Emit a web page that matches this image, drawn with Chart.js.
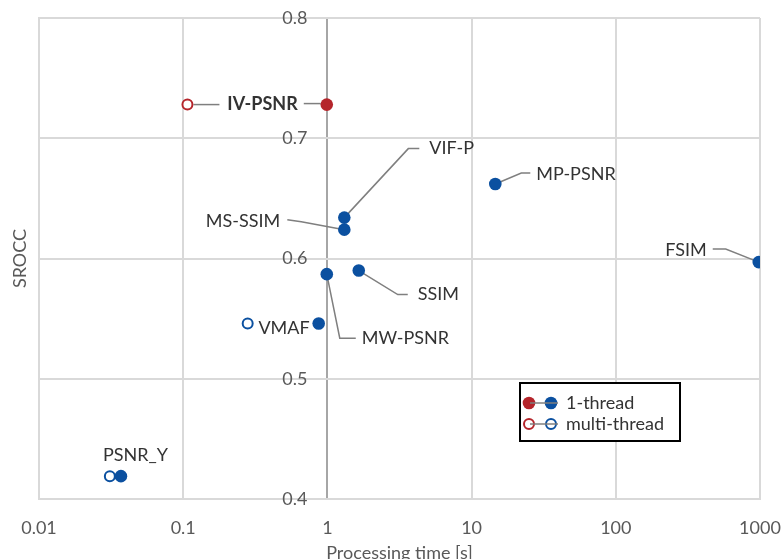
<!DOCTYPE html>
<html>
<head>
<meta charset="utf-8">
<script src="https://cdn.jsdelivr.net/npm/chart.js@4/dist/chart.umd.min.js"></script>
<style>
  html, body { margin: 0; padding: 0; background: #fff; }
  #wrap { position: relative; width: 783px; height: 559px; }
</style>
</head>
<body>
<div id="wrap"><canvas id="chart"></canvas></div>
<script>
/* SROCC vs processing time — IV-PSNR compared with other metrics (log time axis) */

// ---------- data ----------
const METRICS = ["PSNR_Y", "VMAF", "MW-PSNR", "SSIM", "MS-SSIM", "VIF-P", "MP-PSNR", "FSIM"];
const TIME_1T = [0.037, 0.87, 0.99, 1.65, 1.31, 1.31, 14.6, 980];
const SROCC = [0.419, 0.546, 0.587, 0.590, 0.624, 0.634, 0.662, 0.597];

// only two of the other metrics have a multi-thread timing
const MT_METRICS = ["PSNR_Y", "VMAF"];
const TIME_MT = [0.031, 0.28];
const SROCC_MT = [0.419, 0.546];

const IV_TIME_1T = [0.99];
const IV_TIME_MT = [0.107];
const IV_SROCC = [0.728];

const X_TICKS = [0.01, 0.1, 1, 10, 100, 1000];
const Y_MIN = 0.4, Y_MAX = 0.8, Y_STEP = 0.1;

const LEGEND_LABELS = ["1-thread", "multi-thread"];

// ---------- style ----------
const RED = "#b5252b";
const BLUE = "#0b50a0";
const GRID = "#d9d9d9";
const TEXT = "#333333";
const TICK = "#595959";
const FONT = "Lato, 'Open Sans', sans-serif";
// y tick labels sit just left of the x=1 line (the crossing axis)
const Y_LABEL_AT = 0.727;

const pts = (xs, ys) => xs.map((x, i) => ({ x: x, y: ys[i] }));

// label placement: pixel offsets from the point, plus leader polyline (also offsets)
// ds = dataset index, i = point index in that dataset
const LABELS = [
  { ds: 2, i: 0, text: "PSNR_Y", dx: -18, dy: -21, align: "left" },
  { ds: 2, i: 1, text: "VMAF", dx: -9, dy: 5, align: "right" },
  { ds: 2, i: 2, text: "MW-PSNR", dx: 35, dy: 64, align: "left", path: [[0, 0], [13, 64], [29, 64]] },
  { ds: 2, i: 3, text: "SSIM", dx: 59, dy: 24, align: "left", path: [[0, 0], [39, 24], [49, 24]] },
  { ds: 2, i: 4, text: "MS-SSIM", dx: -64, dy: -8, align: "right", path: [[0, 0], [-43, -8], [-57, -10]] },
  { ds: 2, i: 5, text: "VIF-P", dx: 85, dy: -69, align: "left", path: [[0, 0], [64, -69], [75, -69]] },
  { ds: 2, i: 6, text: "MP-PSNR", dx: 41, dy: -10, align: "left", path: [[0, 0], [26, -11], [35, -11]] },
  { ds: 2, i: 7, text: "FSIM", dx: -52, dy: -12, align: "right", path: [[0, 0], [-33, -13], [-46, -13]] },
  { ds: 0, i: 0, text: "IV-PSNR", dx: -29, dy: 0, align: "right", bold: true, path: [[-6, -1], [-23, -1]] },
  { ds: 1, i: 0, text: "", path: [[6, 0], [32, 0]] },
];

// ---------- plugin: leader lines, point labels and the boxed legend ----------
const annotate = {
  id: "annotate",
  beforeDatasetsDraw(chart) {
    const ctx = chart.ctx;
    ctx.save();
    ctx.strokeStyle = "#7f7f7f";
    ctx.lineWidth = 1.5;
    for (const l of LABELS) {
      if (!l.path) continue;
      const el = chart.getDatasetMeta(l.ds).data[l.i];
      ctx.beginPath();
      l.path.forEach(([dx, dy], k) => {
        if (k === 0) ctx.moveTo(el.x + dx, el.y + dy);
        else ctx.lineTo(el.x + dx, el.y + dy);
      });
      ctx.stroke();
    }
    ctx.restore();
  },
  afterDatasetsDraw(chart) {
    const ctx = chart.ctx;
    ctx.save();
    ctx.fillStyle = TEXT;
    ctx.textBaseline = "middle";
    for (const l of LABELS) {
      if (!l.text) continue;
      const el = chart.getDatasetMeta(l.ds).data[l.i];
      ctx.font = (l.bold ? "bold " : "") + "18px " + FONT;
      ctx.textAlign = l.align;
      ctx.fillText(l.text, el.x + l.dx, el.y + l.dy);
    }

    // legend box
    const bx = 520, by = 383, bw = 160, bh = 58;
    ctx.fillStyle = "#fff";
    ctx.fillRect(bx, by, bw, bh);
    ctx.strokeStyle = "#000";
    ctx.lineWidth = 2;
    ctx.strokeRect(bx, by, bw, bh);
    const rows = [by + 20, by + 41];
    rows.forEach((ry, r) => {
      const filled = r === 0;
      [[bx + 9, RED], [bx + 31, BLUE]].forEach(([cx, col]) => {
        ctx.beginPath();
        ctx.arc(cx, ry, filled ? 6.3 : 5, 0, Math.PI * 2);
        if (filled) { ctx.fillStyle = col; ctx.fill(); }
        else { ctx.fillStyle = "#fff"; ctx.fill(); ctx.strokeStyle = col; ctx.lineWidth = 2; ctx.stroke(); }
      });
      ctx.strokeStyle = "#7f7f7f";
      ctx.lineWidth = 1.5;
      ctx.beginPath();
      ctx.moveTo(bx + 10, ry);
      ctx.lineTo(bx + 38, ry);
      ctx.stroke();
      ctx.fillStyle = TEXT;
      ctx.font = "18px " + FONT;
      ctx.textAlign = "left";
      ctx.fillText(LEGEND_LABELS[r], bx + 46, ry);
    });
    ctx.restore();
  },
};

const filledStyle = (c) => ({ backgroundColor: c, borderColor: c, pointRadius: 6.3, borderWidth: 0 });
const openStyle = (c) => ({ backgroundColor: "#fff", borderColor: c, pointRadius: 5, borderWidth: 2 });

// the page keeps a fixed plot box, so drop the label-overflow padding scales ask for
function noPad(s) {
  s.paddingTop = s.paddingBottom = s.paddingLeft = s.paddingRight = 0;
}

new Chart(document.getElementById("chart"), {
  type: "scatter",
  data: {
    datasets: [
      { label: "IV-PSNR 1-thread", data: pts(IV_TIME_1T, IV_SROCC), ...filledStyle(RED), yAxisID: "y" },
      { label: "IV-PSNR multi-thread", data: pts(IV_TIME_MT, IV_SROCC), ...openStyle(RED), yAxisID: "y" },
      { label: "1-thread", data: pts(TIME_1T, SROCC), ...filledStyle(BLUE), yAxisID: "y" },
      { label: "multi-thread", data: pts(TIME_MT, SROCC_MT), ...openStyle(BLUE), yAxisID: "y" },
    ],
  },
  options: {
    responsive: true,
    maintainAspectRatio: false,
    animation: false,
    events: [],
    layout: { padding: { top: 18, right: 23, left: 0, bottom: 0 } },
    plugins: { legend: { display: false }, tooltip: { enabled: false } },
    scales: {
      x: {
        type: "logarithmic",
        min: 0.01,
        max: 1000,
        afterBuildTicks: (s) => { s.ticks = X_TICKS.map((v) => ({ value: v })); },
        afterFit: (s) => { s.height = 60; noPad(s); },
        grid: {
          color: (c) => (c.tick && c.tick.value === 1 ? "#a6a6a6" : GRID),
          lineWidth: 2,
          drawTicks: false,
        },
        border: { color: GRID, width: 2 },
        ticks: {
          autoSkip: false,
          maxRotation: 0,
          padding: 18,
          color: TICK,
          font: { family: FONT, size: 18 },
          callback: (v) => String(v),
        },
        title: {
          display: true,
          text: "Processing time [s]",
          color: TICK,
          font: { family: FONT, size: 18, lineHeight: 0.6 },
          padding: { top: 0, bottom: 0 },
        },
      },
      y: {
        min: Y_MIN,
        max: Y_MAX,
        afterFit: (s) => { s.width = 39; noPad(s); },
        grid: { color: GRID, lineWidth: 2, drawTicks: false },
        border: { color: GRID, width: 2 },
        ticks: { display: false, stepSize: Y_STEP },
        title: {
          display: true,
          text: "SROCC",
          color: TICK,
          font: { family: FONT, size: 18 },
          padding: { top: 9, bottom: 0 },
        },
      },
      y2: {
        axis: "y",
        position: { x: Y_LABEL_AT },
        min: Y_MIN,
        max: Y_MAX,
        afterFit: noPad,
        grid: { display: false, drawTicks: false },
        border: { display: false },
        ticks: {
          stepSize: Y_STEP,
          padding: 0,
          color: TICK,
          font: { family: FONT, size: 18 },
          callback: (v) => v.toFixed(1),
        },
      },
    },
  },
  plugins: [annotate],
});
</script>
</body>
</html>
